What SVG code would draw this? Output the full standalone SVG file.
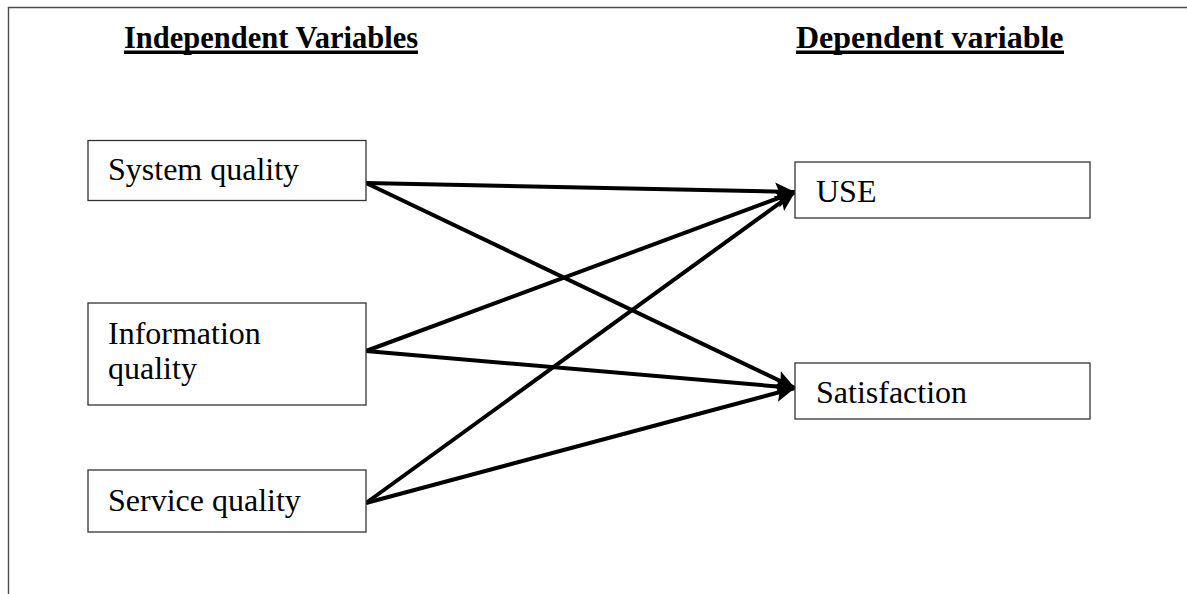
<svg xmlns="http://www.w3.org/2000/svg" width="1187" height="594" viewBox="0 0 1187 594">
  <style>
    .frame { fill: none; stroke: #4a4a4a; stroke-width: 1.4; }
    .box { fill: #ffffff; stroke: #333333; stroke-width: 1.3; }
    .label { font-family: "Liberation Serif", "Times New Roman", serif; font-size: 32px; fill: #000000; }
    .heading { font-family: "Liberation Serif", "Times New Roman", serif; font-size: 30.5px; font-weight: bold; fill: #000000; }
    .rule { fill: #000000; }
    .link { stroke: #000000; stroke-width: 4; fill: none; marker-end: url(#head); }
  </style>
  <defs>
    <marker id="head" markerUnits="userSpaceOnUse" markerWidth="22" markerHeight="22" refX="20" refY="11" orient="auto">
      <path d="M0,2 L20,11 L0,20 L4,11 Z" fill="#000000"/>
    </marker>
  </defs>

  <rect width="1187" height="594" fill="#ffffff"/>
  <!-- page frame: open at the bottom -->
  <path class="frame" d="M8.5,594 V7.5 H1187"/>

  <!-- column headings -->
  <g id="heading-independent">
    <text class="heading" x="124" y="48">Independent Variables</text>
    <rect class="rule" x="124" y="50.5" width="294" height="3.5"/>
  </g>
  <g id="heading-dependent">
    <text class="heading" x="796" y="48" style="font-size:32px">Dependent variable</text>
    <rect class="rule" x="796" y="50.5" width="268" height="3.5"/>
  </g>

  <!-- connectors -->
  <g id="connectors">
    <line class="link" x1="366" y1="183" x2="795" y2="192"/>
    <line class="link" x1="366" y1="183" x2="795" y2="388"/>
    <line class="link" x1="366" y1="351" x2="795" y2="192"/>
    <line class="link" x1="366" y1="351" x2="795" y2="388"/>
    <line class="link" x1="366" y1="503" x2="795" y2="192"/>
    <line class="link" x1="366" y1="503" x2="795" y2="388"/>
  </g>

  <!-- independent variables -->
  <g id="system-quality">
    <rect class="box" x="88" y="140.5" width="278" height="60"/>
    <text class="label" x="108" y="180">System quality</text>
  </g>
  <g id="information-quality">
    <rect class="box" x="88" y="303" width="278" height="102"/>
    <text class="label" x="108" y="344">Information</text>
    <text class="label" x="108" y="379">quality</text>
  </g>
  <g id="service-quality">
    <rect class="box" x="88" y="470" width="278" height="62"/>
    <text class="label" x="108" y="511">Service quality</text>
  </g>

  <!-- dependent variables -->
  <g id="use">
    <rect class="box" x="795" y="162" width="295" height="56"/>
    <text class="label" x="816" y="202">USE</text>
  </g>
  <g id="satisfaction">
    <rect class="box" x="795" y="363" width="295" height="56"/>
    <text class="label" x="816" y="403">Satisfaction</text>
  </g>
</svg>
